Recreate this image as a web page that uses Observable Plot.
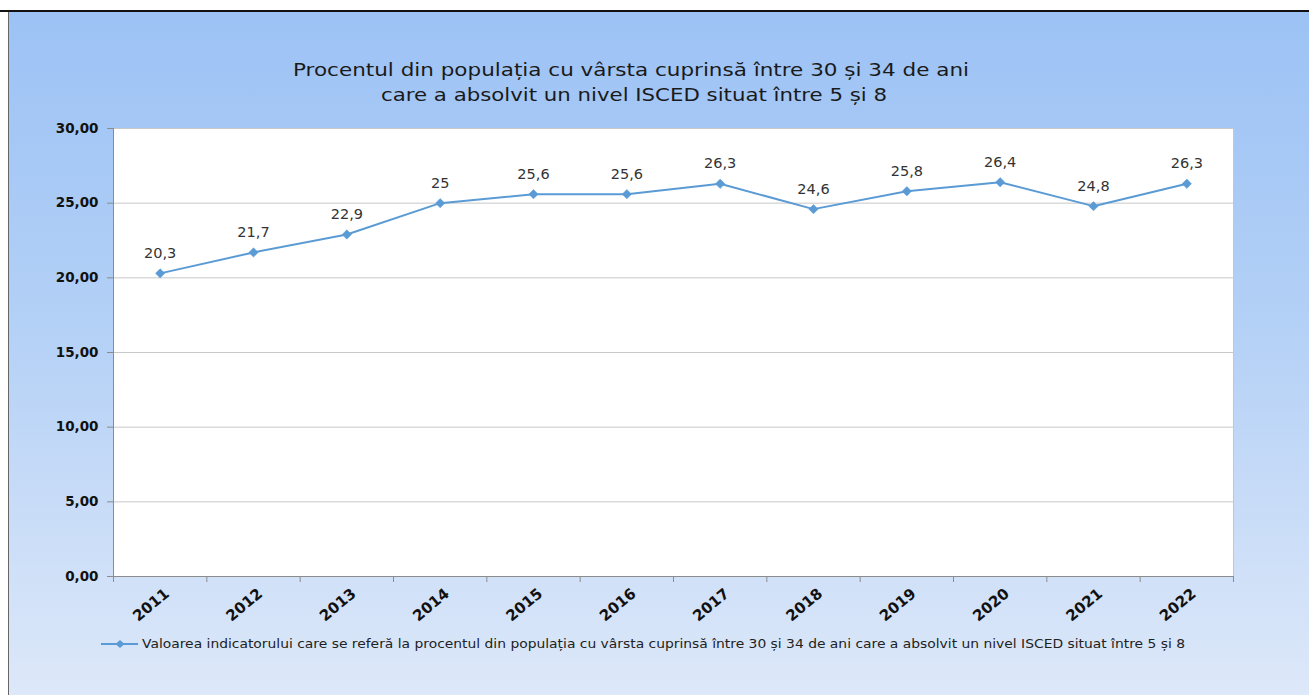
<!DOCTYPE html>
<html>
<head>
<meta charset="utf-8">
<script src="https://cdn.jsdelivr.net/npm/d3@7"></script>
<script src="https://cdn.jsdelivr.net/npm/@observablehq/plot@0.6"></script>
<style>
  html, body { margin: 0; padding: 0; background: #fff; }
  #wrap { position: relative; width: 1309px; height: 695px; overflow: hidden; font-family: "DejaVu Sans", sans-serif; }
  #bg { position: absolute; left: 8px; top: 11px; right: 0; bottom: 0;
        background: linear-gradient(to bottom, #9cc2f5 0%, #b3d0f6 45%, #dde8f9 100%);
        border-left: 1.5px solid #666; }
  #topline { position: absolute; left: 0; top: 10px; width: 1309px; height: 2px; background: #111; }
  #chart { position: absolute; left: 0; top: 0; }
  #overlay { position: absolute; left: 0; top: 0; }
</style>
</head>
<body>
<div id="wrap">
  <div id="bg"></div>
  <div id="topline"></div>
  <div id="chart"></div>
  <svg id="overlay" width="1309" height="695" xmlns="http://www.w3.org/2000/svg"></svg>
</div>
<script>
const titleLines = [
  "Procentul din populația cu vârsta cuprinsă între 30 și 34 de ani",
  "care a absolvit un nivel ISCED situat între 5 și 8"
];
const legendLabel = "Valoarea indicatorului care se referă la procentul din populația cu vârsta cuprinsă între 30 și 34 de ani care a absolvit un nivel ISCED situat între 5 și 8";
const years = [2011, 2012, 2013, 2014, 2015, 2016, 2017, 2018, 2019, 2020, 2021, 2022];
const values = [20.3, 21.7, 22.9, 25, 25.6, 25.6, 26.3, 24.6, 25.8, 26.4, 24.8, 26.3];
const yTicks = [0, 5, 10, 15, 20, 25, 30];

const lineColor = "#5b9bd5";
const data = years.map((y, i) => ({year: y, value: values[i]}));
const xEdges = years.map(y => y - 0.5).concat([years[years.length - 1] + 0.5]);
const fmtTick = d => d.toFixed(2).replace(".", ",");
const fmtVal = d => String(d).replace(".", ",");

const chart = Plot.plot({
  width: 1309,
  height: 695,
  marginLeft: 113,
  marginRight: 76,
  marginTop: 128,
  marginBottom: 119,
  style: {background: "transparent", fontFamily: "DejaVu Sans, sans-serif", overflow: "visible"},
  x: {domain: [xEdges[0], xEdges[xEdges.length - 1]]},
  y: {domain: [0, 30]},
  marks: [
    Plot.frame({fill: "white", stroke: "#c6c6c6"}),
    Plot.gridY(yTicks.filter(d => d > 0), {stroke: "#c8c8c8", strokeOpacity: 1, strokeWidth: 1}),
    Plot.ruleX([xEdges[0]], {stroke: "#8c8c8c"}),
    Plot.ruleY([0], {stroke: "#8c8c8c"}),
    Plot.axisY(yTicks, {tickSize: 6, tickPadding: 9, stroke: "#8c8c8c", tickFormat: fmtTick,
      fontWeight: "bold", fontSize: 13.5, fill: "#111", label: null}),
    Plot.axisX(xEdges, {tickSize: 6, stroke: "#8c8c8c", tickFormat: () => "", label: null}),
    Plot.axisX(years, {tickSize: 0, tickRotate: -40, tickPadding: 15, dx: 7, tickFormat: d => String(d),
      fontWeight: "bold", fontSize: 15, fill: "#111", label: null}),
    Plot.line(data, {x: "year", y: "value", stroke: lineColor, strokeWidth: 2}),
    Plot.dot(data, {x: "year", y: "value", symbol: "diamond2", fill: lineColor, stroke: lineColor, r: 4.2, strokeWidth: 0.5}),
    Plot.text(data, {x: "year", y: "value", text: d => fmtVal(d.value), dy: -20, fontSize: 14.5, fill: "#333"})
  ]
});
document.getElementById("chart").appendChild(chart);

// Title and legend overlay
const ns = "http://www.w3.org/2000/svg";
const ov = document.getElementById("overlay");
function addText(str, x, y, size, len, anchor, fill) {
  const t = document.createElementNS(ns, "text");
  t.setAttribute("x", x);
  t.setAttribute("y", y);
  t.setAttribute("font-family", "DejaVu Sans, sans-serif");
  t.setAttribute("font-size", size);
  t.setAttribute("fill", fill);
  t.setAttribute("text-anchor", anchor);
  t.setAttribute("dominant-baseline", "middle");
  if (len) { t.setAttribute("textLength", len); t.setAttribute("lengthAdjust", "spacingAndGlyphs"); }
  t.textContent = str;
  ov.appendChild(t);
}
addText(titleLines[0], 631, 71, 17, 676, "middle", "#1a1a1a");
addText(titleLines[1], 634, 96, 17, 506, "middle", "#1a1a1a");

// legend swatch
const ln = document.createElementNS(ns, "line");
ln.setAttribute("x1", 101); ln.setAttribute("x2", 138);
ln.setAttribute("y1", 644); ln.setAttribute("y2", 644);
ln.setAttribute("stroke", lineColor); ln.setAttribute("stroke-width", 2);
ov.appendChild(ln);
const dm = document.createElementNS(ns, "path");
dm.setAttribute("d", "M120,640 L124.5,644 L120,648 L115.5,644 Z");
dm.setAttribute("fill", lineColor);
ov.appendChild(dm);
addText(legendLabel, 142, 644, 12.5, 1043, "start", "#222");
</script>
</body>
</html>
